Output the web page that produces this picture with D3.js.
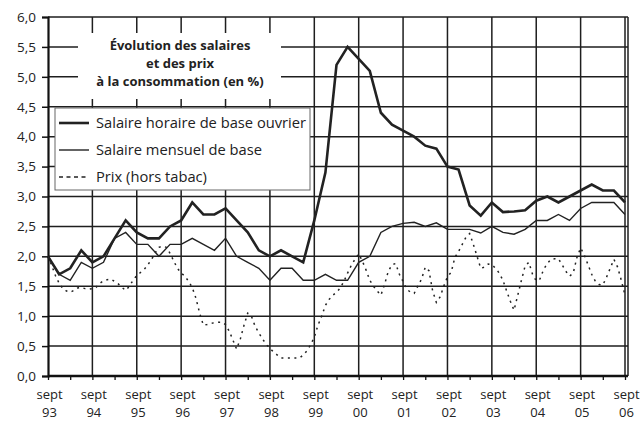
<!DOCTYPE html>
<html lang="fr">
<head>
    <meta charset="UTF-8">
    <title>Évolution des salaires et des prix</title>
    <script src="https://d3js.org/d3.v7.min.js"></script>
    <style>
        body { margin: 0; background: #fff; }
        text { font-family: 'Open Sans', sans-serif; fill: #222; }
    </style>
</head>
<body>
<script>
    const width  = 643;
    const height = 421;

    // x-axis labels: "sept" + year
    const years = ['93','94','95','96','97','98','99','00','01','02','03','04','05','06'];
    const yTicks = [0, 0.5, 1, 1.5, 2, 2.5, 3, 3.5, 4, 4.5, 5, 5.5, 6];

    // quarterly series, sept 93 -> sept 06 (53 points)
    const salaireHoraire = [2.0, 1.7, 1.8, 2.1, 1.9, 2.0, 2.3, 2.6, 2.4, 2.3, 2.3, 2.5, 2.6,
        2.9, 2.7, 2.7, 2.8, 2.6, 2.4, 2.1, 2.0, 2.1, 2.0, 1.9, 2.6, 3.4, 5.2, 5.5, 5.3, 5.1,
        4.4, 4.2, 4.1, 4.0, 3.85, 3.8, 3.5, 3.45, 2.85, 2.68, 2.9, 2.74, 2.75, 2.77, 2.93,
        3.0, 2.9, 3.0, 3.1, 3.2, 3.1, 3.1, 2.9];
    const salaireMensuel = [2.0, 1.7, 1.6, 1.9, 1.8, 1.9, 2.3, 2.4, 2.2, 2.2, 2.0, 2.2, 2.2,
        2.3, 2.2, 2.1, 2.3, 2.0, 1.9, 1.8, 1.6, 1.8, 1.8, 1.6, 1.6, 1.7, 1.6, 1.6, 1.9, 2.0,
        2.4, 2.5, 2.55, 2.57, 2.5, 2.56, 2.45, 2.45, 2.45, 2.39, 2.5, 2.4, 2.37, 2.45, 2.6,
        2.6, 2.7, 2.6, 2.8, 2.9, 2.9, 2.9, 2.7];

    // monthly series, sept 93 -> sept 06 (157 points)
    const prix = [2.0, 1.85, 1.68, 1.55, 1.46, 1.42, 1.4, 1.43, 1.47, 1.48, 1.46, 1.45,
        1.46, 1.48, 1.55, 1.59, 1.61, 1.62, 1.58, 1.54, 1.48, 1.43, 1.5, 1.6,
        1.68, 1.73, 1.78, 1.86, 1.95, 2.06, 2.15, 2.17, 2.15, 2.05, 1.92, 1.8,
        1.72, 1.67, 1.58, 1.48, 1.3, 1.05, 0.85, 0.86, 0.88, 0.89, 0.9, 0.9,
        0.86, 0.75, 0.6, 0.45, 0.62, 0.85, 1.05, 1.0, 0.83, 0.72, 0.62, 0.53,
        0.46, 0.4, 0.35, 0.3, 0.3, 0.3, 0.3, 0.3, 0.3, 0.35, 0.42, 0.52,
        0.65, 0.85, 1.0, 1.18, 1.28, 1.35, 1.4, 1.47, 1.58, 1.72, 1.85, 1.95,
        2.04, 1.92, 1.77, 1.6, 1.5, 1.42, 1.35, 1.53, 1.75, 1.86, 1.88, 1.7,
        1.58, 1.45, 1.4, 1.38, 1.5, 1.62, 1.82, 1.76, 1.42, 1.23, 1.32, 1.5,
        1.66, 1.73, 1.98, 2.08, 2.2, 2.32, 2.38, 2.2, 2.0, 1.8, 1.82, 1.87,
        1.86, 1.8, 1.72, 1.6, 1.42, 1.25, 1.1, 1.35, 1.6, 1.84, 1.9, 1.7,
        1.59, 1.62, 1.78, 1.88, 1.95, 1.96, 1.96, 1.86, 1.75, 1.67, 1.72, 1.98,
        2.14, 2.02, 1.86, 1.7, 1.58, 1.53, 1.52, 1.65, 1.8, 1.95, 1.82, 1.6,
        1.35];

    const legendLabels = ['Salaire horaire de base ouvrier', 'Salaire mensuel de base', 'Prix (hors tabac)'];
    const titleLines = ['Évolution des salaires', 'et des prix', 'à la consommation (en %)'];

    const plot = {left: 48, right: 628, top: 17, bottom: 376};

    // x in months since sept 93
    const x = d3.scaleLinear().domain([0, 156]).range([plot.left, 625]);
    const y = d3.scaleLinear().domain([0, 6]).range([plot.bottom, plot.top]);

    const svg = d3.select("body")
            .append("svg")
            .attr("width", width)
            .attr("height", height);

    // horizontal grid
    svg.append("g")
       .selectAll("line")
       .data(yTicks.slice(1))
       .join("line")
       .attr("x1", plot.left).attr("x2", plot.right)
       .attr("y1", d => y(d)).attr("y2", d => y(d))
       .attr("stroke", "#1e1e1e").attr("stroke-width", 1.5);

    // vertical grid (each sept)
    svg.append("g")
       .selectAll("line")
       .data(years.slice(1))
       .join("line")
       .attr("x1", (d,i) => x((i+1)*12)).attr("x2", (d,i) => x((i+1)*12))
       .attr("y1", plot.top).attr("y2", plot.bottom)
       .attr("stroke", "#1e1e1e").attr("stroke-width", 1.5);

    // right frame
    svg.append("line")
       .attr("x1", plot.right).attr("x2", plot.right)
       .attr("y1", plot.top).attr("y2", plot.bottom)
       .attr("stroke", "#1e1e1e").attr("stroke-width", 1.5);

    // y axis
    const yAxis = d3.axisLeft(y).tickValues(yTicks).tickSize(6)
          .tickFormat(d => d3.format(".1f")(d).replace(".", ","));
    const gy = svg.append("g")
          .attr("transform", `translate(${plot.left},0)`)
          .call(yAxis);
    gy.select(".domain").attr("stroke", "#111").attr("stroke-width", 2.2);
    gy.selectAll(".tick line").attr("stroke", "#111").attr("stroke-width", 1.5);
    gy.selectAll(".tick text").attr("x", -12).attr("font-size", 13.5)
      .attr("font-family", "'Open Sans', sans-serif").attr("fill", "#222");

    // x axis: minor ticks every 6 months
    const xAxis = d3.axisBottom(x).tickValues(d3.range(0, 157, 6)).tickSize(4)
          .tickSizeOuter(0).tickFormat("");
    const gx = svg.append("g")
          .attr("transform", `translate(0,${plot.bottom})`)
          .call(xAxis);
    gx.select(".domain").attr("d", `M${plot.left},0H${plot.right}`)
      .attr("stroke", "#111").attr("stroke-width", 2.4);
    gx.selectAll(".tick line").attr("stroke", "#111").attr("stroke-width", 1.3);

    // two-line x labels, as separate texts
    const xLab = svg.append("g").attr("text-anchor", "middle").attr("font-size", 13);
    xLab.selectAll("text.m")
        .data(years).join("text").attr("class", "m")
        .attr("x", (d,i) => x(i*12) + 1.5).attr("y", 398.5)
        .text("sept");
    xLab.selectAll("text.yr")
        .data(years).join("text").attr("class", "yr")
        .attr("x", (d,i) => x(i*12) + 1.5).attr("y", 417)
        .text(d => d);

    // series
    const line = d3.line().x(d => x(d[0])).y(d => y(d[1]));

    svg.append("path")
       .attr("d", line(prix.map((v,i) => [i, v])))
       .attr("fill", "none").attr("stroke", "#222")
       .attr("stroke-width", 1.5).attr("stroke-dasharray", "2,4.5");

    svg.append("path")
       .attr("d", line(salaireMensuel.map((v,i) => [i*3, v])))
       .attr("fill", "none").attr("stroke", "#222").attr("stroke-width", 1.4);

    svg.append("path")
       .attr("d", line(salaireHoraire.map((v,i) => [i*3, v])))
       .attr("fill", "none").attr("stroke", "#222").attr("stroke-width", 2.6)
       .attr("stroke-linejoin", "miter");

    // title box
    svg.append("rect")
       .attr("x", 78).attr("y", 33).attr("width", 203).attr("height", 66)
       .attr("fill", "#fff");
    svg.append("g")
       .selectAll("text")
       .data(titleLines)
       .join("text")
       .attr("x", 180)
       .attr("y", (d,i) => 50 + i*18)
       .attr("text-anchor", "middle")
       .attr("font-size", 13)
       .attr("font-weight", "bold")
       .text(d => d);

    // legend
    const legend = svg.append("g").attr("transform", "translate(55,108)");
    legend.append("rect")
          .attr("width", 255).attr("height", 82)
          .attr("fill", "#fff").attr("stroke", "#666").attr("stroke-width", 1);
    const styles = [
        {w: 2.6, dash: null},
        {w: 1.4, dash: null},
        {w: 1.5, dash: "4,3.5"}
    ];
    const item = legend.selectAll("g.item")
          .data(legendLabels)
          .join("g").attr("class", "item")
          .attr("transform", (d,i) => `translate(0,${15 + i*27})`);
    item.append("line")
        .attr("x1", 4).attr("x2", 34)
        .attr("stroke", "#222")
        .attr("stroke-width", (d,i) => styles[i].w)
        .attr("stroke-dasharray", (d,i) => styles[i].dash);
    item.append("text")
        .attr("x", 41).attr("y", 5)
        .attr("font-size", 14.7)
        .text(d => d);
</script>
</body>
</html>
